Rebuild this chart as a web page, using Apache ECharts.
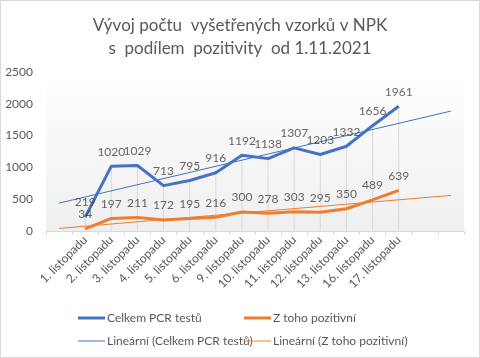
<!DOCTYPE html>
<html>
<head>
<meta charset="utf-8">
<script src="https://cdn.jsdelivr.net/npm/echarts@6/dist/echarts.min.js"></script>
<style>
html,body{margin:0;padding:0;background:#fff;}
#c{width:480px;height:358px;box-sizing:border-box;border:1px solid #d9d9d9;}
</style>
</head>
<body>
<div id="c"></div>
<script>
// categories (first and last two slots are the trendline forecast periods)
var categories = ['', '1. listopadu', '2. listopadu', '3. listopadu', '4. listopadu', '5. listopadu', '6. listopadu', '9. listopadu', '10. listopadu', '11. listopadu', '12. listopadu', '13. listopadu', '16. listopadu', '17. listopadu', '', ''];
var celkem = [219, 1020, 1029, 713, 795, 916, 1192, 1138, 1307, 1203, 1332, 1656, 1961];
var pozitivni = [34, 197, 211, 172, 195, 216, 300, 278, 303, 295, 350, 489, 639];
var yTicks = [0, 500, 1000, 1500, 2000, 2500];

// pad series into category slots (slot 0 empty)
function padded(arr){
  var out = [null];
  arr.forEach(function(v){ out.push(v); });
  while (out.length < categories.length) out.push(null);
  return out;
}
// Excel-style linear trendline (x = 1..n), drawn from slot 0 to last slot
function trend(arr){
  var n = arr.length, sx = 0, sy = 0, sxy = 0, sxx = 0;
  for (var i = 0; i < n; i++){ var x = i + 1; sx += x; sy += arr[i]; sxy += x * arr[i]; sxx += x * x; }
  var b = (n * sxy - sx * sy) / (n * sxx - sx * sx);
  var a = (sy - b * sx) / n;
  var out = [];
  for (var c = 0; c < categories.length; c++) out.push((c === 0 || c === categories.length - 1) ? a + b * c : null);
  return out;
}

var FONT = 'Lato, "Open Sans", sans-serif';
var TXT = '#595959';
var BLUE = '#4472C4', ORANGE = '#ED7D31';
var THICK = 'path://M0,0 H27 V3 H0 Z';
var THIN = 'path://M0,0 H27 V1 H0 Z';

function labelSeries(arr){
  return {type: 'scatter', data: padded(arr), symbolSize: 1, itemStyle: {color: 'rgba(0,0,0,0)'},
    silent: true, z: 5,
    label: {show: true, position: 'top', distance: 8, fontSize: 12, color: '#404040', fontFamily: FONT,
      formatter: function(p){ return p.value; }}};
}
function legendBlock(left, names){
  return {orient: 'vertical', left: left, top: 311, padding: 0, itemWidth: 27, itemHeight: 10, itemGap: 11,
    textStyle: {fontFamily: FONT, fontSize: 12, color: TXT, padding: [0,0,0,-3]},
    data: [{name: names[0], icon: THICK}, {name: names[1], icon: THIN}]};
}

var chart = echarts.init(document.getElementById('c'), null, {renderer: 'canvas'});
chart.setOption({
  animation: false,
  textStyle: {fontFamily: FONT},
  title: {
    text: 'Vývoj počtu  vyšetřených vzorků v NPK\ns  podílem  pozitivity  od 1.11.2021',
    left: 'center', top: 8,
    textStyle: {fontFamily: FONT, fontSize: 17, fontWeight: 'normal', color: TXT, lineHeight: 23}
  },
  legend: [
    legendBlock(77, ['Celkem PCR testů', 'Lineární (Celkem PCR testů)']),
    legendBlock(243, ['Z toho pozitivní', 'Lineární (Z toho pozitivní)'])
  ],
  grid: {
    left: 45, right: 15, top: 71, bottom: 126, show: true, borderWidth: 0,
    backgroundColor: new echarts.graphic.LinearGradient(0, 0, 0, 1, [
      {offset: 0, color: '#ffffff'}, {offset: 1, color: '#efefef'}
    ])
  },
  xAxis: {
    type: 'category', data: categories, boundaryGap: true,
    axisLine: {lineStyle: {color: '#d9d9d9'}},
    axisTick: {show: true, length: 4, lineStyle: {color: '#d9d9d9'}},
    axisLabel: {interval: 0, rotate: 45, fontSize: 12, color: TXT, fontFamily: FONT, margin: 7}
  },
  yAxis: {
    type: 'value', min: yTicks[0], max: yTicks[yTicks.length - 1], interval: 500,
    axisLine: {show: false}, axisTick: {show: false}, splitLine: {show: false},
    axisLabel: {fontSize: 12, color: TXT, fontFamily: FONT, margin: 13, formatter: function(v){ return String(v); }}
  },
  series: [
    {name: 'drop', type: 'bar', data: padded(celkem), barWidth: 1, silent: true,
     itemStyle: {color: '#d9d9d9'}, z: 1, legendHoverLink: false},
    {name: 'Lineární (Celkem PCR testů)', type: 'line', data: trend(celkem), connectNulls: true,
     symbol: 'none', lineStyle: {color: BLUE, width: 1}, itemStyle: {color: BLUE}, z: 3},
    {name: 'Lineární (Z toho pozitivní)', type: 'line', data: trend(pozitivni), connectNulls: true,
     symbol: 'none', lineStyle: {color: ORANGE, width: 1}, itemStyle: {color: ORANGE}, z: 3},
    {name: 'Celkem PCR testů', type: 'line', data: padded(celkem), symbol: 'none',
     lineStyle: {color: BLUE, width: 3}, itemStyle: {color: BLUE}, z: 4},
    {name: 'Z toho pozitivní', type: 'line', data: padded(pozitivni), symbol: 'none',
     lineStyle: {color: ORANGE, width: 3}, itemStyle: {color: ORANGE}, z: 4},
    labelSeries(celkem),
    labelSeries(pozitivni)
  ]
});
</script>
</body>
</html>
